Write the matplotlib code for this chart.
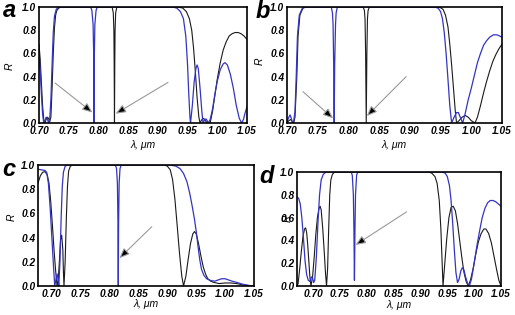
import matplotlib
matplotlib.use("Agg")
import matplotlib.pyplot as plt

plt.rcParams['font.family'] = ['Liberation Sans', 'DejaVu Sans']

# ---------------- data ----------------
X_TICKS = [0.70, 0.75, 0.80, 0.85, 0.90, 0.95, 1.00, 1.05]
X_TICK_LABELS = ['0.70', '0.75', '0.80', '0.85', '0.90', '0.95', '1.00', '1.05']
Y_TICKS = [0.0, 0.2, 0.4, 0.6, 0.8, 1.0]
Y_TICK_LABELS = ['0.0', '0.2', '0.4', '0.6', '0.8', '1.0']
PANEL_LETTERS = ['a', 'b', 'c', 'd']
X_LABEL = 'λ, μm'
Y_LABEL = 'R'

# panel a
A_LAM_K = [0.700, 0.702, 0.704, 0.706, 0.708, 0.710, 0.712, 0.714, 0.716, 0.718, 0.720, 0.722,
           0.724, 0.726, 0.728, 0.730, 0.733, 0.737, 0.823, 0.825, 0.826, 0.8265, 0.827, 0.8275,
           0.828, 0.829, 0.831, 0.935, 0.942, 0.948, 0.953, 0.957, 0.960, 0.963, 0.966, 0.969,
           0.971, 0.974, 0.977, 0.980, 0.983, 0.988, 0.992, 0.996, 1.000, 1.005, 1.010, 1.015,
           1.020, 1.025, 1.030, 1.035, 1.040, 1.045, 1.050]
A_R_K = [0.68, 0.55, 0.35, 0.15, 0.03, 0.0, 0.03, 0.05, 0.04, 0.01, 0.05, 0.30,
         0.60, 0.82, 0.93, 0.97, 0.99, 1.0, 1.0, 0.95, 0.80, 0.50, 0.0, 0.50,
         0.80, 0.95, 1.0, 1.0, 0.99, 0.96, 0.90, 0.80, 0.65, 0.45, 0.22, 0.05,
         0.0, 0.03, 0.04, 0.02, 0.0, 0.0, 0.10, 0.24, 0.38, 0.52, 0.63, 0.70,
         0.75, 0.77, 0.78, 0.78, 0.77, 0.75, 0.72]
A_LAM_B = [0.700, 0.702, 0.704, 0.706, 0.708, 0.710, 0.712, 0.714, 0.716, 0.718, 0.720, 0.722,
           0.724, 0.726, 0.729, 0.733, 0.787, 0.789, 0.791, 0.792, 0.7926, 0.7932, 0.794, 0.796,
           0.798, 0.925, 0.932, 0.938, 0.943, 0.947, 0.950, 0.952, 0.954, 0.955, 0.958, 0.961,
           0.964, 0.966, 0.968, 0.971, 0.974, 0.976, 0.979, 0.981, 0.983, 0.985, 0.988, 0.992,
           0.996, 1.000, 1.005, 1.010, 1.013, 1.017, 1.022, 1.027, 1.032, 1.037, 1.041, 1.044,
           1.047, 1.050]
A_R_B = [0.62, 0.45, 0.25, 0.08, 0.0, 0.02, 0.05, 0.04, 0.0, 0.03, 0.20, 0.50,
         0.78, 0.92, 0.98, 1.0, 1.0, 0.97, 0.85, 0.60, 0.0, 0.60, 0.85, 0.97,
         1.0, 1.0, 0.99, 0.96, 0.90, 0.75, 0.50, 0.25, 0.05, 0.0, 0.15, 0.35,
         0.47, 0.50, 0.47, 0.30, 0.10, 0.0, 0.03, 0.035, 0.02, 0.0, 0.03, 0.12,
         0.25, 0.36, 0.46, 0.51, 0.52, 0.50, 0.42, 0.30, 0.15, 0.04, 0.0, 0.03,
         0.09, 0.14]

# panel b
B_LAM_K = [0.700, 0.703, 0.706, 0.709, 0.711, 0.713, 0.716, 0.718, 0.721, 0.726, 0.731, 0.824,
           0.826, 0.827, 0.828, 0.829, 0.830, 0.831, 0.832, 0.834, 0.948, 0.954, 0.958, 0.962,
           0.965, 0.968, 0.971, 0.974, 0.976, 0.980, 0.985, 0.990, 0.995, 1.000, 1.006, 1.010,
           1.015, 1.020, 1.025, 1.030, 1.035, 1.040, 1.045, 1.050]
B_R_K = [0.0, 0.02, 0.03, 0.01, 0.0, 0.05, 0.40, 0.75, 0.93, 0.99, 1.0, 1.0,
         0.97, 0.90, 0.60, 0.0, 0.60, 0.90, 0.97, 1.0, 1.0, 0.98, 0.93, 0.83,
         0.68, 0.50, 0.30, 0.10, 0.0, 0.02, 0.05, 0.065, 0.05, 0.02, 0.0, 0.05,
         0.15, 0.26, 0.36, 0.45, 0.53, 0.59, 0.64, 0.68]
B_LAM_B = [0.700, 0.703, 0.705, 0.707, 0.709, 0.711, 0.713, 0.715, 0.717, 0.720, 0.725, 0.730,
           0.772, 0.774, 0.775, 0.776, 0.7768, 0.7776, 0.779, 0.780, 0.782, 0.940, 0.946, 0.950,
           0.953, 0.956, 0.959, 0.962, 0.965, 0.968, 0.972, 0.976, 0.979, 0.982, 0.986, 0.990,
           0.995, 1.000, 1.005, 1.010, 1.015, 1.020, 1.025, 1.030, 1.036, 1.042, 1.046, 1.050]
B_R_B = [0.01, 0.05, 0.07, 0.04, 0.0, 0.02, 0.10, 0.40, 0.75, 0.93, 0.99, 1.0,
         1.0, 0.95, 0.85, 0.50, 0.0, 0.50, 0.85, 0.95, 1.0, 1.0, 0.99, 0.96,
         0.90, 0.78, 0.60, 0.38, 0.15, 0.0, 0.05, 0.09, 0.09, 0.05, 0.0, 0.08,
         0.20, 0.30, 0.41, 0.52, 0.60, 0.67, 0.71, 0.74, 0.76, 0.76, 0.75, 0.74]

# panel c
C_LAM_K = [0.676, 0.680, 0.684, 0.688, 0.692, 0.695, 0.698, 0.701, 0.704, 0.707, 0.709, 0.711,
           0.713, 0.715, 0.717, 0.719, 0.720, 0.721, 0.723, 0.725, 0.727, 0.729, 0.732, 0.736,
           0.895, 0.900, 0.905, 0.909, 0.913, 0.917, 0.921, 0.925, 0.928, 0.932, 0.936, 0.940,
           0.944, 0.947, 0.950, 0.954, 0.958, 0.962, 0.966, 0.970, 0.975, 0.980, 0.990, 1.000,
           1.010, 1.020, 1.030, 1.040, 1.048]
C_R_K = [0.85, 0.91, 0.94, 0.945, 0.92, 0.85, 0.70, 0.50, 0.28, 0.10, 0.0, 0.05,
         0.20, 0.38, 0.42, 0.30, 0.12, 0.0, 0.20, 0.55, 0.82, 0.95, 0.99, 1.0,
         1.0, 0.99, 0.96, 0.88, 0.72, 0.50, 0.27, 0.08, 0.0, 0.08, 0.22, 0.35,
         0.43, 0.45, 0.43, 0.35, 0.25, 0.16, 0.10, 0.06, 0.04, 0.03, 0.02, 0.025,
         0.025, 0.02, 0.01, 0.005, 0.0]
C_LAM_B = [0.676, 0.682, 0.688, 0.691, 0.694, 0.697, 0.700, 0.703, 0.705, 0.707, 0.709, 0.711,
           0.712, 0.714, 0.716, 0.718, 0.720, 0.723, 0.727, 0.810, 0.812, 0.8135, 0.8145, 0.815,
           0.8155, 0.8165, 0.818, 0.820, 0.905, 0.915, 0.922, 0.928, 0.934, 0.939, 0.943, 0.947,
           0.950, 0.953, 0.956, 0.959, 0.963, 0.968, 0.975, 0.982, 0.988, 0.994, 1.000, 1.006,
           1.012, 1.020, 1.030, 1.040, 1.048]
C_R_B = [0.965, 0.96, 0.955, 0.94, 0.85, 0.65, 0.40, 0.15, 0.0, 0.05, 0.10, 0.05,
         0.0, 0.20, 0.55, 0.82, 0.94, 0.99, 1.0, 1.0, 0.97, 0.85, 0.50, 0.0,
         0.50, 0.85, 0.97, 1.0, 1.0, 0.99, 0.97, 0.93, 0.86, 0.76, 0.66, 0.55,
         0.45, 0.33, 0.22, 0.14, 0.09, 0.06, 0.045, 0.04, 0.05, 0.06, 0.06, 0.05,
         0.04, 0.03, 0.015, 0.005, 0.0]

# panel d
D_LAM_K = [0.670, 0.672, 0.675, 0.678, 0.681, 0.684, 0.686, 0.688, 0.690, 0.692, 0.694, 0.696,
           0.699, 0.702, 0.705, 0.708, 0.711, 0.713, 0.715, 0.718, 0.721, 0.723, 0.725, 0.727,
           0.729, 0.731, 0.733, 0.736, 0.740, 0.915, 0.921, 0.927, 0.931, 0.935, 0.938, 0.940,
           0.942, 0.945, 0.949, 0.953, 0.957, 0.961, 0.965, 0.969, 0.973, 0.977, 0.981, 0.985,
           0.989, 0.993, 0.998, 1.003, 1.008, 1.013, 1.018, 1.022, 1.027, 1.032, 1.037, 1.042,
           1.046, 1.050]
D_R_K = [0.0, 0.02, 0.15, 0.30, 0.43, 0.50, 0.51, 0.47, 0.36, 0.22, 0.08, 0.0,
         0.08, 0.25, 0.45, 0.60, 0.68, 0.70, 0.67, 0.50, 0.28, 0.12, 0.0, 0.15,
         0.50, 0.80, 0.93, 0.98, 1.0, 1.0, 0.99, 0.96, 0.90, 0.75, 0.50, 0.25,
         0.0, 0.18, 0.42, 0.60, 0.69, 0.70, 0.66, 0.55, 0.40, 0.25, 0.12, 0.04,
         0.0, 0.05, 0.15, 0.28, 0.39, 0.46, 0.50, 0.50, 0.46, 0.38, 0.26, 0.14,
         0.05, 0.0]
D_LAM_B = [0.670, 0.673, 0.676, 0.679, 0.682, 0.685, 0.688, 0.691, 0.694, 0.697, 0.699, 0.701,
           0.703, 0.706, 0.709, 0.712, 0.715, 0.719, 0.724, 0.771, 0.773, 0.775, 0.776, 0.777,
           0.778, 0.779, 0.781, 0.783, 0.940, 0.946, 0.950, 0.954, 0.957, 0.960, 0.963, 0.966,
           0.969, 0.972, 0.975, 0.978, 0.981, 0.984, 0.988, 0.991, 0.995, 1.000, 1.005, 1.010,
           1.015, 1.020, 1.025, 1.030, 1.035, 1.040, 1.045, 1.050]
D_R_B = [0.78, 0.77, 0.72, 0.60, 0.42, 0.22, 0.10, 0.05, 0.04, 0.08, 0.07, 0.03,
         0.05, 0.25, 0.55, 0.80, 0.93, 0.98, 1.0, 1.0, 0.97, 0.80, 0.50, 0.05,
         0.50, 0.80, 0.97, 1.0, 1.0, 0.99, 0.96, 0.88, 0.75, 0.55, 0.32, 0.12,
         0.03, 0.06, 0.13, 0.16, 0.14, 0.08, 0.02, 0.0, 0.06, 0.20, 0.35, 0.48,
         0.60, 0.68, 0.73, 0.75, 0.75, 0.74, 0.72, 0.70]

# ---------------- drawing ----------------
W, H = 515, 315
fig = plt.figure(figsize=(W / 100, H / 100), dpi=100)

BLACK = '#1a1a1a'
BLUE = '#3434c4'
TICK_FONT = dict(family=['Liberation Sans', 'DejaVu Sans'], weight='bold', style='italic', size=7.3)


def make_axes(l, t, r, b):
    return fig.add_axes([l / W, 1 - b / H, (r - l) / W, (b - t) / H])


def px_to_axes(ax_box, x, y):
    l, t, r, b = ax_box
    return (x - l) / (r - l), (b - y) / (b - t)


panels = [
    dict(box=(39, 7, 247, 123), xlim=(0.700, 1.050),
         k=(A_LAM_K, A_R_K), bl=(A_LAM_B, A_R_B),
         letter=(3, 17), xlab=(143, 145), ylab=(10, 66),
         arrows=[((0.727, 0.345), (0.790, 0.09)), ((0.917, 0.35), (0.829, 0.08))]),
    dict(box=(287, 7, 502, 123), xlim=(0.700, 1.050),
         k=(B_LAM_K, B_R_K), bl=(B_LAM_B, B_R_B),
         letter=(256, 18), xlab=(394, 145), ylab=(260, 61),
         arrows=[((0.726, 0.27), (0.775, 0.04)), ((0.894, 0.40), (0.830, 0.06))]),
    dict(box=(38, 165, 254, 286), xlim=(0.676, 1.048),
         k=(C_LAM_K, C_R_K), bl=(C_LAM_B, C_R_B),
         letter=(2, 176), xlab=(146, 304), ylab=(12, 217),
         arrows=[((0.873, 0.49), (0.817, 0.23))]),
    dict(box=(297, 172, 501, 286), xlim=(0.670, 1.050),
         k=(D_LAM_K, D_R_K), bl=(D_LAM_B, D_R_B),
         letter=(259, 183), xlab=(399, 305), ylab=(288, 218),
         arrows=[((0.874, 0.65), (0.779, 0.36))]),
]

for letter, p in zip(PANEL_LETTERS, panels):
    ax = make_axes(*p['box'])
    ax.plot(p['k'][0], p['k'][1], color=BLACK, lw=0.8)
    ax.plot(p['bl'][0], p['bl'][1], color=BLUE, lw=0.9)
    ax.set_xlim(*p['xlim'])
    ax.set_ylim(0.0, 1.0)
    ax.set_xticks(X_TICKS)
    ax.set_xticklabels(X_TICK_LABELS, fontdict=TICK_FONT)
    ax.set_yticks(Y_TICKS)
    ax.set_yticklabels(Y_TICK_LABELS, fontdict=TICK_FONT)
    ax.tick_params(length=0, pad=2)
    for s in ax.spines.values():
        s.set_linewidth(1.2)
        s.set_color('black')
    for (x0, y0), (x1, y1) in p['arrows']:
        ax.annotate('', xy=(x1, y1), xytext=(x0, y0),
                    arrowprops=dict(arrowstyle='-|>,head_length=0.6,head_width=0.25',
                                    fc='black', ec='#9a9a9a', lw=0.8,
                                    shrinkA=0, shrinkB=0))
    xx, yy = px_to_axes(p['box'], *p['xlab'])
    ax.text(xx, yy, X_LABEL, transform=ax.transAxes, ha='center', va='center',
            fontsize=7.5, style='italic', family=['Liberation Sans', 'DejaVu Sans'])
    xx, yy = px_to_axes(p['box'], *p['ylab'])
    ax.text(xx, yy, Y_LABEL, transform=ax.transAxes, ha='center', va='center',
            rotation=90, fontsize=7.5, style='italic', family=['Liberation Sans', 'DejaVu Sans'])
    lx, ly = p['letter']
    fig.text(lx / W, 1 - ly / H, letter, fontsize=17, fontweight='bold', style='italic',
             va='baseline', ha='left', family=['Liberation Sans', 'DejaVu Sans'])

fig.savefig('out.png', dpi=100)
